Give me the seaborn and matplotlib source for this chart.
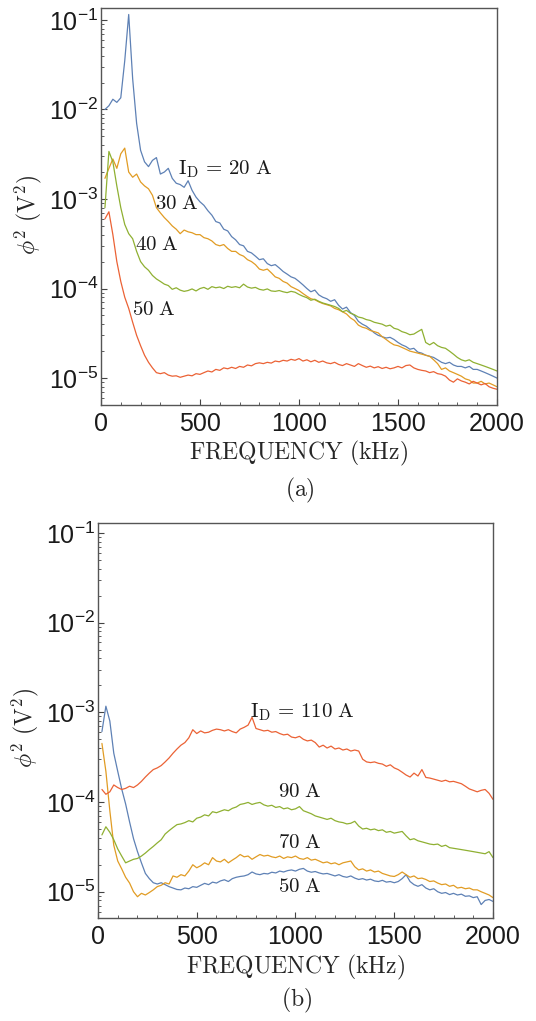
import numpy as np
import pandas as pd
import seaborn as sns
import matplotlib.pyplot as plt
from matplotlib.ticker import LogLocator, MultipleLocator, NullFormatter

# frequency grid (kHz)
freq = np.arange(20, 2001, 20)

# panel (a): low discharge currents
a_20A = [1.0e-2, 1.1e-2, 1.3e-2, 1.2e-2, 1.35e-2, 3.5e-2, 1.15e-1, 2.2e-2, 7.0e-3, 3.5e-3,
         2.6e-3, 2.3e-3, 2.7e-3, 2.9e-3, 1.9e-3, 2.0e-3, 2.2e-3, 1.7e-3, 1.5e-3, 1.45e-3,
         1.35e-3, 1.6e-3, 1.25e-3, 1.05e-3, 9.3e-4, 8.5e-4, 7.4e-4, 6.6e-4, 5.6e-4, 5.4e-4,
         4.6e-4, 4.4e-4, 3.8e-4, 3.5e-4, 3.1e-4, 3.0e-4, 2.6e-4, 2.5e-4, 2.3e-4, 2.1e-4,
         2.15e-4, 1.9e-4, 1.8e-4, 1.85e-4, 1.7e-4, 1.55e-4, 1.45e-4, 1.35e-4, 1.3e-4, 1.2e-4,
         1.1e-4, 1.0e-4, 9.2e-5, 9.6e-5, 8.5e-5, 8.0e-5, 7.7e-5, 7.2e-5, 7.5e-5, 6.5e-5,
         5.9e-5, 6.2e-5, 5.4e-5, 5.0e-5, 4.3e-5, 4.0e-5, 3.8e-5, 3.5e-5, 3.2e-5, 3.0e-5,
         2.9e-5, 2.8e-5, 2.85e-5, 2.7e-5, 2.5e-5, 2.35e-5, 2.25e-5, 2.1e-5, 2.15e-5, 1.95e-5,
         1.9e-5, 1.8e-5, 1.75e-5, 1.7e-5, 1.6e-5, 1.5e-5, 1.45e-5, 1.5e-5, 1.4e-5, 1.35e-5,
         1.35e-5, 1.3e-5, 1.35e-5, 1.25e-5, 1.25e-5, 1.2e-5, 1.15e-5, 1.1e-5, 1.05e-5, 1.0e-5]
a_30A = [1.7e-3, 2.2e-3, 2.8e-3, 2.2e-3, 3.2e-3, 3.7e-3, 2.0e-3, 1.75e-3, 1.9e-3, 1.55e-3,
         1.4e-3, 1.3e-3, 1.1e-3, 8.0e-4, 7.0e-4, 6.2e-4, 5.6e-4, 5.0e-4, 4.6e-4, 4.1e-4,
         4.5e-4, 4.3e-4, 4.2e-4, 4.0e-4, 4.0e-4, 3.7e-4, 3.6e-4, 3.4e-4, 3.1e-4, 3.0e-4,
         3.1e-4, 2.8e-4, 2.6e-4, 2.6e-4, 2.4e-4, 2.3e-4, 2.1e-4, 2.0e-4, 1.85e-4, 1.65e-4,
         1.6e-4, 1.65e-4, 1.5e-4, 1.35e-4, 1.3e-4, 1.2e-4, 1.15e-4, 1.05e-4, 1.0e-4, 9.5e-5,
         8.8e-5, 8.2e-5, 7.7e-5, 7.5e-5, 7.1e-5, 6.8e-5, 6.6e-5, 6.4e-5, 6.0e-5, 5.8e-5,
         5.5e-5, 5.2e-5, 4.7e-5, 4.4e-5, 3.9e-5, 3.7e-5, 3.6e-5, 3.4e-5, 3.3e-5, 3.2e-5,
         2.9e-5, 2.7e-5, 2.5e-5, 2.35e-5, 2.3e-5, 2.2e-5, 2.1e-5, 2.0e-5, 1.95e-5, 1.9e-5,
         1.85e-5, 1.8e-5, 1.75e-5, 1.6e-5, 1.45e-5, 1.25e-5, 1.3e-5, 1.2e-5, 1.15e-5, 1.1e-5,
         1.05e-5, 9.8e-6, 9.5e-6, 8.8e-6, 8.8e-6, 9.2e-6, 8.6e-6, 8.8e-6, 8.4e-6, 8.0e-6]
a_40A = [8.0e-4, 3.4e-3, 2.6e-3, 1.4e-3, 8.0e-4, 5.2e-4, 4.1e-4, 3.6e-4, 2.6e-4, 2.0e-4,
         1.75e-4, 1.6e-4, 1.4e-4, 1.28e-4, 1.2e-4, 1.12e-4, 1.08e-4, 9.8e-5, 1.02e-4, 9.6e-5,
         9.3e-5, 9.5e-5, 9.9e-5, 9.4e-5, 1.0e-4, 1.03e-4, 9.8e-5, 1.05e-4, 1.02e-4, 1.04e-4,
         1.0e-4, 1.06e-4, 1.03e-4, 1.05e-4, 1.02e-4, 1.12e-4, 1.04e-4, 1.01e-4, 1.03e-4, 9.8e-5,
         9.6e-5, 9.9e-5, 9.4e-5, 9.3e-5, 9.5e-5, 9.2e-5, 9.0e-5, 9.3e-5, 9.1e-5, 8.6e-5,
         8.2e-5, 7.9e-5, 7.4e-5, 7.6e-5, 7.2e-5, 6.9e-5, 6.7e-5, 6.5e-5, 6.3e-5, 6.0e-5,
         5.5e-5, 5.7e-5, 5.3e-5, 5.1e-5, 4.8e-5, 4.7e-5, 4.5e-5, 4.4e-5, 4.2e-5, 4.1e-5,
         4.0e-5, 3.8e-5, 3.9e-5, 3.6e-5, 3.5e-5, 3.3e-5, 3.2e-5, 3.05e-5, 3.1e-5, 3.3e-5,
         3.5e-5, 2.5e-5, 2.35e-5, 2.5e-5, 2.3e-5, 2.2e-5, 2.15e-5, 2.0e-5, 1.85e-5, 1.7e-5,
         1.6e-5, 1.55e-5, 1.6e-5, 1.5e-5, 1.45e-5, 1.4e-5, 1.35e-5, 1.3e-5, 1.25e-5, 1.2e-5]
a_50A = [6.0e-4, 7.2e-4, 4.0e-4, 2.0e-4, 1.2e-4, 8.0e-5, 6.0e-5, 4.2e-5, 3.0e-5, 2.3e-5,
         1.8e-5, 1.5e-5, 1.3e-5, 1.15e-5, 1.12e-5, 1.15e-5, 1.08e-5, 1.05e-5, 1.06e-5, 1.02e-5,
         1.05e-5, 1.08e-5, 1.06e-5, 1.12e-5, 1.1e-5, 1.15e-5, 1.2e-5, 1.17e-5, 1.25e-5, 1.22e-5,
         1.3e-5, 1.27e-5, 1.32e-5, 1.28e-5, 1.35e-5, 1.32e-5, 1.4e-5, 1.37e-5, 1.45e-5, 1.48e-5,
         1.45e-5, 1.5e-5, 1.47e-5, 1.55e-5, 1.52e-5, 1.58e-5, 1.55e-5, 1.62e-5, 1.58e-5, 1.65e-5,
         1.55e-5, 1.6e-5, 1.52e-5, 1.58e-5, 1.5e-5, 1.55e-5, 1.48e-5, 1.45e-5, 1.5e-5, 1.42e-5,
         1.38e-5, 1.45e-5, 1.4e-5, 1.35e-5, 1.45e-5, 1.38e-5, 1.32e-5, 1.36e-5, 1.3e-5, 1.34e-5,
         1.28e-5, 1.32e-5, 1.27e-5, 1.3e-5, 1.35e-5, 1.3e-5, 1.38e-5, 1.4e-5, 1.3e-5, 1.25e-5,
         1.22e-5, 1.2e-5, 1.15e-5, 1.18e-5, 1.12e-5, 1.1e-5, 1.05e-5, 9.5e-6, 9.0e-6, 9.8e-6,
         9.3e-6, 9.0e-6, 8.6e-6, 9.2e-6, 8.8e-6, 8.4e-6, 8.7e-6, 8.0e-6, 7.7e-6, 7.5e-6]

# panel (b): high discharge currents
b_50A = [6.1e-4, 1.17e-3, 8.0e-4, 3.5e-4, 2.2e-4, 1.4e-4, 9.5e-5, 6.0e-5, 3.9e-5, 2.8e-5,
         2.1e-5, 1.6e-5, 1.4e-5, 1.26e-5, 1.22e-5, 1.26e-5, 1.2e-5, 1.14e-5, 1.1e-5, 1.06e-5,
         1.05e-5, 1.1e-5, 1.08e-5, 1.14e-5, 1.12e-5, 1.18e-5, 1.24e-5, 1.2e-5, 1.28e-5, 1.25e-5,
         1.32e-5, 1.36e-5, 1.3e-5, 1.4e-5, 1.45e-5, 1.48e-5, 1.5e-5, 1.55e-5, 1.66e-5, 1.58e-5,
         1.55e-5, 1.6e-5, 1.58e-5, 1.65e-5, 1.62e-5, 1.7e-5, 1.66e-5, 1.72e-5, 1.75e-5, 1.7e-5,
         1.78e-5, 1.82e-5, 1.7e-5, 1.65e-5, 1.68e-5, 1.62e-5, 1.58e-5, 1.6e-5, 1.55e-5, 1.5e-5,
         1.55e-5, 1.48e-5, 1.45e-5, 1.5e-5, 1.42e-5, 1.37e-5, 1.4e-5, 1.35e-5, 1.38e-5, 1.32e-5,
         1.3e-5, 1.34e-5, 1.28e-5, 1.3e-5, 1.26e-5, 1.3e-5, 1.4e-5, 1.55e-5, 1.3e-5, 1.2e-5,
         1.15e-5, 1.2e-5, 1.1e-5, 1.05e-5, 1.08e-5, 1.0e-5, 9.6e-6, 9.8e-6, 9.3e-6, 9.6e-6,
         9.2e-6, 9.4e-6, 8.9e-6, 9.0e-6, 8.6e-6, 8.8e-6, 7.2e-6, 8.0e-6, 8.2e-6, 7.8e-6]
b_70A = [4.5e-4, 2.2e-4, 8.0e-5, 3.3e-5, 2.2e-5, 1.8e-5, 1.45e-5, 1.25e-5, 1.0e-5, 8.8e-6,
         9.6e-6, 9.2e-6, 9.8e-6, 1.05e-5, 1.14e-5, 1.18e-5, 1.26e-5, 1.22e-5, 1.5e-5, 1.45e-5,
         1.55e-5, 1.5e-5, 1.7e-5, 2.0e-5, 1.85e-5, 1.95e-5, 2.1e-5, 2.0e-5, 2.4e-5, 2.2e-5,
         2.15e-5, 2.3e-5, 2.1e-5, 2.25e-5, 2.4e-5, 2.6e-5, 2.45e-5, 2.5e-5, 2.3e-5, 2.45e-5,
         2.6e-5, 2.5e-5, 2.55e-5, 2.45e-5, 2.4e-5, 2.5e-5, 2.35e-5, 2.45e-5, 2.4e-5, 2.5e-5,
         2.35e-5, 2.3e-5, 2.4e-5, 2.25e-5, 2.3e-5, 2.2e-5, 2.1e-5, 2.15e-5, 2.05e-5, 2.1e-5,
         2.0e-5, 2.1e-5, 2.15e-5, 2.2e-5, 1.9e-5, 1.75e-5, 1.8e-5, 1.7e-5, 1.75e-5, 1.66e-5,
         1.7e-5, 1.6e-5, 1.55e-5, 1.5e-5, 1.48e-5, 1.55e-5, 1.66e-5, 1.55e-5, 1.45e-5, 1.5e-5,
         1.4e-5, 1.42e-5, 1.37e-5, 1.3e-5, 1.32e-5, 1.25e-5, 1.2e-5, 1.22e-5, 1.15e-5, 1.18e-5,
         1.1e-5, 1.12e-5, 1.08e-5, 1.1e-5, 1.05e-5, 1.05e-5, 1.0e-5, 9.6e-6, 9.2e-6, 8.6e-6]
b_90A = [4.3e-5, 5.3e-5, 4.6e-5, 3.8e-5, 3.0e-5, 2.5e-5, 2.1e-5, 2.2e-5, 2.3e-5, 2.35e-5,
         2.5e-5, 2.7e-5, 2.95e-5, 3.2e-5, 3.5e-5, 3.8e-5, 4.4e-5, 4.8e-5, 5.2e-5, 5.6e-5,
         5.7e-5, 5.9e-5, 6.2e-5, 6.0e-5, 6.6e-5, 6.8e-5, 7.2e-5, 7.0e-5, 7.8e-5, 7.6e-5,
         7.9e-5, 8.2e-5, 8.0e-5, 8.5e-5, 8.8e-5, 9.4e-5, 9.6e-5, 9.9e-5, 9.4e-5, 9.7e-5,
         9.9e-5, 9.3e-5, 9.0e-5, 9.2e-5, 8.7e-5, 8.9e-5, 8.4e-5, 8.6e-5, 8.2e-5, 8.4e-5,
         8.9e-5, 8.0e-5, 7.7e-5, 7.4e-5, 7.0e-5, 6.8e-5, 6.6e-5, 6.4e-5, 6.6e-5, 6.2e-5,
         6.0e-5, 5.9e-5, 5.7e-5, 5.8e-5, 6.1e-5, 5.4e-5, 5.0e-5, 5.1e-5, 4.9e-5, 5.0e-5,
         4.8e-5, 4.9e-5, 4.6e-5, 4.7e-5, 4.5e-5, 4.6e-5, 4.7e-5, 4.2e-5, 3.8e-5, 3.9e-5,
         3.7e-5, 3.6e-5, 3.5e-5, 3.4e-5, 3.35e-5, 3.4e-5, 3.2e-5, 3.3e-5, 3.1e-5, 3.05e-5,
         3.0e-5, 2.95e-5, 2.9e-5, 2.85e-5, 2.8e-5, 2.75e-5, 2.7e-5, 2.65e-5, 2.8e-5, 2.4e-5]
b_110A = [1.38e-4, 1.22e-4, 1.3e-4, 1.55e-4, 1.45e-4, 1.38e-4, 1.42e-4, 1.5e-4, 1.45e-4, 1.55e-4,
          1.7e-4, 1.9e-4, 2.1e-4, 2.3e-4, 2.4e-4, 2.55e-4, 2.8e-4, 3.1e-4, 3.5e-4, 3.9e-4,
          4.3e-4, 4.6e-4, 5.2e-4, 6.4e-4, 5.8e-4, 6.2e-4, 5.9e-4, 6.0e-4, 6.3e-4, 6.5e-4,
          6.4e-4, 6.2e-4, 6.4e-4, 6.1e-4, 5.9e-4, 6.5e-4, 6.8e-4, 7.2e-4, 8.8e-4, 6.6e-4,
          6.4e-4, 6.2e-4, 6.3e-4, 6.0e-4, 6.1e-4, 5.8e-4, 5.6e-4, 5.7e-4, 5.3e-4, 5.2e-4,
          5.4e-4, 5.0e-4, 4.8e-4, 4.9e-4, 4.6e-4, 4.1e-4, 4.3e-4, 4.0e-4, 4.2e-4, 3.9e-4,
          4.0e-4, 3.8e-4, 3.9e-4, 3.7e-4, 3.8e-4, 3.7e-4, 3.0e-4, 2.8e-4, 2.75e-4, 2.8e-4,
          2.7e-4, 2.65e-4, 2.5e-4, 2.6e-4, 2.4e-4, 2.3e-4, 2.15e-4, 2.0e-4, 1.9e-4, 2.1e-4,
          1.95e-4, 2.3e-4, 1.88e-4, 1.85e-4, 1.8e-4, 1.75e-4, 1.7e-4, 1.75e-4, 1.68e-4, 1.7e-4,
          1.65e-4, 1.6e-4, 1.5e-4, 1.4e-4, 1.35e-4, 1.3e-4, 1.35e-4, 1.38e-4, 1.25e-4, 1.07e-4]

blue, orange, green, red = "#5E81B5", "#E19C24", "#8FB032", "#EB6235"

panel_a = [(a_20A, blue), (a_30A, orange), (a_40A, green), (a_50A, red)]
panel_b = [(b_50A, blue), (b_70A, orange), (b_90A, green), (b_110A, red)]

# curve labels: (text, x kHz, y V^2 at baseline)
labels_a = [(r"$\mathrm{I_D\,=\,20\ A}$", 389, 1.86e-3),
            (r"$\mathrm{30\ A}$", 273, 7.7e-4),
            (r"$\mathrm{40\ A}$", 172, 2.7e-4),
            (r"$\mathrm{50\ A}$", 157, 5.0e-5)]
labels_b = [(r"$\mathrm{I_D\,=\,110\ A}$", 770, 8.8e-4),
            (r"$\mathrm{90\ A}$", 911, 1.14e-4),
            (r"$\mathrm{70\ A}$", 911, 3.07e-5),
            (r"$\mathrm{50\ A}$", 911, 1.0e-5)]

sns.set_style("ticks")
plt.rcParams["font.family"] = ["Liberation Sans", "DejaVu Sans"]

fig = plt.figure(figsize=(5.36, 10.21), dpi=100)
ax_a = fig.add_axes([0.1884, 0.6033, 0.7388, 0.3889])
ax_b = fig.add_axes([0.1828, 0.1009, 0.7370, 0.3869])


def draw_panel(ax, curves, labels, ylim):
    for vals, col in curves:
        df = pd.DataFrame({"f": freq, "p": vals})
        sns.lineplot(data=df, x="f", y="p", color=col, lw=0.9, ax=ax)
    ax.set_yscale("log")
    ax.set_xlim(0, 2000)
    ax.set_ylim(*ylim)
    ax.xaxis.set_major_locator(MultipleLocator(500))
    ax.xaxis.set_minor_locator(MultipleLocator(100))
    ax.yaxis.set_major_locator(LogLocator(base=10, numticks=20))
    ax.yaxis.set_minor_locator(LogLocator(base=10, subs=np.arange(2, 10), numticks=20))
    ax.yaxis.set_minor_formatter(NullFormatter())
    ax.tick_params(which="both", direction="in", top=False, right=False,
                   color="#444444", labelsize=18, labelcolor="#1a1a1a")
    ax.tick_params(which="major", length=4, width=0.8)
    ax.tick_params(which="minor", length=2.2, width=0.6)
    ax.tick_params(axis="x", pad=5)
    ax.tick_params(axis="y", pad=2)
    for s in ax.spines.values():
        s.set_color("#555555")
        s.set_linewidth(1.0)
    ax.set_xlabel(r"$\mathrm{FREQUENCY\ (kHz)}$", fontsize=17, math_fontfamily="cm")
    ax.set_ylabel(r"$\phi^2\ (\mathrm{V}^2)$", fontsize=17, math_fontfamily="cm")
    for txt, x, y in labels:
        ax.text(x, y, txt, fontsize=15, math_fontfamily="cm", ha="left", va="baseline",
                color="#1a1a1a")


draw_panel(ax_a, panel_a, labels_a, (5.0e-6, 0.136))
draw_panel(ax_b, panel_b, labels_b, (5.1e-6, 0.129))

ax_a.xaxis.set_label_coords(0.5, -0.085)
ax_b.xaxis.set_label_coords(0.5, -0.088)
ax_a.yaxis.set_label_coords(-0.145, 0.48)
ax_b.yaxis.set_label_coords(-0.145, 0.48)

fig.text(0.56, 1 - 490 / 1021, r"$\mathrm{(a)}$", fontsize=17, math_fontfamily="cm",
         ha="center", va="center")
fig.text(0.553, 1 - 1000 / 1021, r"$\mathrm{(b)}$", fontsize=17, math_fontfamily="cm",
         ha="center", va="center")

fig.savefig("out.png", dpi=100)
